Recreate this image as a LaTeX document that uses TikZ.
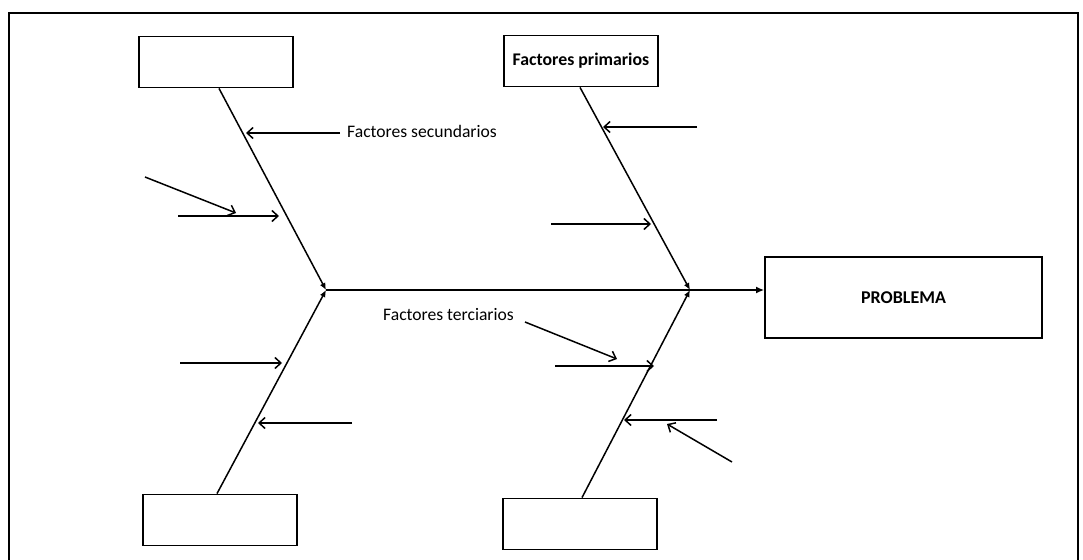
\documentclass[tikz,border=0pt]{standalone}
\usepackage{fontspec}
\setmainfont{Carlito}
\usetikzlibrary{arrows.meta}
\begin{document}
\begin{tikzpicture}[x=1pt,y=-1pt,
  frame/.style={draw,line width=1.3pt},
  cause/.style={draw,line width=1.8pt,minimum width=154pt,minimum height=51pt,inner sep=0pt},
  bone/.style={line width=1.5pt,-{Latex[length=7pt,width=6pt]}},
  twig/.style={line width=1.5pt,-{Straight Barb[length=6pt,width=11pt]}},
  lbl/.style={font=\fontsize{17.6}{19}\selectfont,anchor=west,inner sep=0pt}]
\useasboundingbox (0,0) rectangle (1083,559);
\clip (0,0) rectangle (1083,559);
\draw[frame] (9,13) rectangle (1078,600);

% cause boxes
\node[cause] (tl) at (216,62) {};
\node[cause] (tr) at (581,61) {\fontsize{17.8}{19}\selectfont\bfseries Factores primarios};
\node[cause] (bl) at (220,520) {};
\node[cause] (br) at (580,524) {};
\node[draw,line width=1.8pt,minimum width=277pt,minimum height=81pt,inner sep=0pt] (prob) at (903.5,297.5)
  {\fontsize{18}{20}\selectfont\bfseries PROBLEMA};

% spine and main bones
\coordinate (jl) at (326,290);
\coordinate (jr) at (690,290);
\draw[line width=1.5pt,-{Latex[length=8pt,width=7pt]}] (jl) -- (jl -| prob.west);
\draw[bone] (tl.south) ++(3,0) coordinate (tla) -- (jl);
\draw[bone] (bl.north) ++(-3,0) coordinate (bla) -- (jl);
\draw[bone] (tr.south) ++(-1,0) coordinate (tra) -- (jr);
\draw[bone] (br.north) ++(2,0) coordinate (bra) -- (jr);

% secondary causes
\coordinate (s1a) at (340,133); \coordinate (s1b) at (246,133);
\draw[twig] (s1a) -- (s1b);
\node[lbl] (sec) at (347,131) {Factores secundarios};
\coordinate (s2a) at (145,177); \coordinate (s2b) at (236,213);
\draw[twig] (s2a) -- (s2b);
\coordinate (s3a) at (178,216); \coordinate (s3b) at (279,216);
\draw[twig] (s3a) -- (s3b);
\coordinate (s4a) at (697,127); \coordinate (s4b) at (603,127);
\draw[twig] (s4a) -- (s4b);
\coordinate (s5a) at (551,224); \coordinate (s5b) at (651,224);
\draw[twig] (s5a) -- (s5b);

% tertiary causes
\node[lbl] (ter) at (383,315) {Factores terciarios};
\coordinate (t1a) at (525,322); \coordinate (t1b) at (617,359);
\draw[twig] (t1a) -- (t1b);
\coordinate (t2a) at (555,366); \coordinate (t2b) at (654,366);
\draw[twig] (t2a) -- (t2b);
\coordinate (t3a) at (180,363); \coordinate (t3b) at (282,363);
\draw[twig] (t3a) -- (t3b);
\coordinate (t4a) at (352,423); \coordinate (t4b) at (258,423);
\draw[twig] (t4a) -- (t4b);
\coordinate (t5a) at (717,420); \coordinate (t5b) at (624,420);
\draw[twig] (t5a) -- (t5b);
\coordinate (t6a) at (732,462); \coordinate (t6b) at (667,424);
\draw[twig] (t6a) -- (t6b);
\end{tikzpicture}
\end{document}
